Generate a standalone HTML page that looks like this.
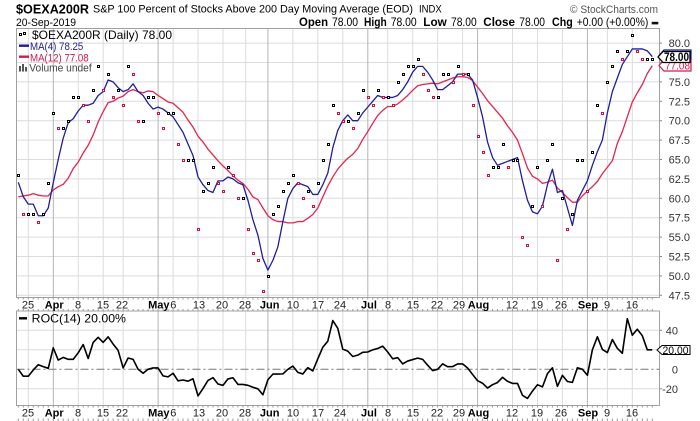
<!DOCTYPE html>
<html><head><meta charset="utf-8">
<style>
html,body{margin:0;padding:0;background:#fff;}
svg{display:block;font-family:"Liberation Sans",Arial,sans-serif;}
</style></head><body>
<svg id="c" width="700" height="421" viewBox="0 0 700 421" xmlns="http://www.w3.org/2000/svg">
<defs>
<clipPath id="cm"><rect x="16.5" y="28.5" width="643" height="269"/></clipPath>
<clipPath id="cr"><rect x="16.5" y="311" width="643" height="94.5"/></clipPath>
</defs>
<rect x="0" y="0" width="700" height="421" fill="#fff"/>
<g id="grid"></g>
<g id="ser"></g>

<!-- header -->
<text x="16" y="13.3" font-weight="bold" font-size="13" textLength="73" lengthAdjust="spacingAndGlyphs">$OEXA200R</text>
<text x="93" y="12.7" font-size="11" textLength="320" lengthAdjust="spacingAndGlyphs">S&amp;P 100 Percent of Stocks Above 200 Day Moving Average (EOD)</text>
<text x="419" y="12.7" font-size="11" textLength="22.7" lengthAdjust="spacingAndGlyphs">INDX</text>
<text x="570" y="13" font-size="11" fill="#555" textLength="88" lengthAdjust="spacingAndGlyphs">&#169; StockCharts.com</text>

<text x="16" y="26" font-size="11" textLength="60" lengthAdjust="spacingAndGlyphs">20-Sep-2019</text>
<g font-size="12">
<text x="299" y="26" font-weight="bold" textLength="29" lengthAdjust="spacingAndGlyphs">Open</text>
<text x="332" y="26" textLength="26" lengthAdjust="spacingAndGlyphs">78.00</text>
<text x="364" y="26" font-weight="bold" textLength="22.7" lengthAdjust="spacingAndGlyphs">High</text>
<text x="390.7" y="26" textLength="26" lengthAdjust="spacingAndGlyphs">78.00</text>
<text x="423.3" y="26" font-weight="bold" textLength="23.4" lengthAdjust="spacingAndGlyphs">Low</text>
<text x="451" y="26" textLength="25.7" lengthAdjust="spacingAndGlyphs">78.00</text>
<text x="483.3" y="26" font-weight="bold" textLength="31.7" lengthAdjust="spacingAndGlyphs">Close</text>
<text x="519.3" y="26" textLength="25.7" lengthAdjust="spacingAndGlyphs">78.00</text>
<text x="552" y="26" font-weight="bold" textLength="20.7" lengthAdjust="spacingAndGlyphs">Chg</text>
<text x="576.7" y="26" textLength="71.6" lengthAdjust="spacingAndGlyphs">+0.00 (+0.00%)</text>
</g>
<rect x="651.7" y="21.8" width="6.6" height="2.6" fill="#111"/>

<!-- legend main -->
<rect x="19.5" y="33.5" width="2" height="2" fill="#fff" stroke="#000" stroke-width="1"/>
<rect x="23.5" y="32.5" width="2" height="2" fill="#fff" stroke="#000" stroke-width="1"/>
<text x="32" y="39" font-size="12" textLength="140" lengthAdjust="spacingAndGlyphs">$OEXA200R (Daily) 78.00</text>
<line x1="19" y1="45.7" x2="29" y2="45.7" stroke="#1d1d8f" stroke-width="2.4"/>
<text x="30" y="50" font-size="11" fill="#1d1d8f" textLength="53.3" lengthAdjust="spacingAndGlyphs">MA(4) 78.25</text>
<line x1="19" y1="56.7" x2="29" y2="56.7" stroke="#d6184a" stroke-width="2.4"/>
<text x="30" y="61.5" font-size="11" fill="#d6184a" textLength="58.7" lengthAdjust="spacingAndGlyphs">MA(12) 77.08</text>
<rect x="19" y="66" width="2" height="5.5" fill="#555"/>
<rect x="22" y="64" width="2" height="7.5" fill="#555"/>
<rect x="25" y="67" width="2" height="4.5" fill="#555"/>
<text x="29.3" y="71.7" font-size="11" fill="#444" textLength="62.4" lengthAdjust="spacingAndGlyphs">Volume undef</text>

<!-- ROC legend -->
<line x1="19" y1="318.3" x2="27" y2="318.3" stroke="#000" stroke-width="2.4"/>
<text x="31.7" y="322.5" font-size="12" textLength="94.3" lengthAdjust="spacingAndGlyphs">ROC(14) 20.00%</text>

<g id="labels"></g>

<!-- tags main -->
<polygon points="659,55.5 664,50 691,50 691,61 664,61" fill="#fff" stroke="#1d1d8f" stroke-width="1.2"/>
<polygon points="659,65.5 664,60 691,60 691,71 664,71" fill="#fff" stroke="#d6184a" stroke-width="1.2"/>
<text x="665" y="69.5" font-size="11" fill="#d6184a" textLength="25" lengthAdjust="spacingAndGlyphs">77.08</text>
<polygon points="658,57 663,51.5 690,51.5 690,62.5 663,62.5" fill="#fff" stroke="#000" stroke-width="1.3"/>
<text x="664" y="61" font-size="12" font-weight="bold" textLength="25" lengthAdjust="spacingAndGlyphs">78.00</text>

<!-- ROC tag -->
<polygon points="657,350 662,345.5 690,345.5 690,354.5 662,354.5" fill="#fff" stroke="#000" stroke-width="1"/>
<text x="662.5" y="353.8" font-size="11" textLength="26" lengthAdjust="spacingAndGlyphs">20.00</text>
</svg>
<script>
(function(){
var NS="http://www.w3.org/2000/svg";
function el(tag,a,p){var e=document.createElementNS(NS,tag);for(var k in a)e.setAttribute(k,a[k]);p.appendChild(e);return e;}
var grid=document.getElementById('grid'),ser=document.getElementById('ser'),lab=document.getElementById('labels');
var C=[58,63,58,
58,58,57,58,62,71,69,69,70,73,
73,72,70,74,77,74,76,73,74,72,
77,76,70,70,73,73,71,69,71,71,
67,65,65,65,56,61,62,64,62,61,
64,63,60,60,56,53,52,48,50,58,
59,61,62,63,62,60,61,59,62,65,
67,72,71,70,70,69,71,74,73,72,
74,73,73,72,75,76,77,77,78,76,
74,73,73,76,76,75,77,76,76,72,
68,66,63,64,64,67,64,65,65,55,
54,59,64,59,65,67,52,60,56,58,
65,65,61,66,72,71,75,77,79,78,
79,81,79,78,78,78];
function c(i){return C[i+3];}
function X(i){return 28.28+4.992*i;}
function Y(v){return 43.1+(80-v)*7.76;}
function YR(r){return 369.3-r*0.975;}
var ma12pre=[60.2,60.3,60.4,60.6,60.4,60.3,60.3,61.07,61.5,61.8];
var rocpre=[0,-7.1,-7.1,-0.7,4.7,2.7,1,22,9.5,12.2,10.2,10.2,16.9,25.4];
var gl=[[28.3,0],[53.3,1],[78.3,0],[103.2,0],[123.1,0],[158.1,1],[173.1,0],[198,0],[223,0],[245.7,0],[267.9,1],[292.9,0],[317.8,0],[342.8,0],[367.8,1],[387.7,0],[412.7,0],[437.6,0],[462.6,0],[477.6,1],[512.5,0],[537.5,0],[562.4,0],[587.4,1],[607.4,0],[632.3,0]];
var i,v;
for(v=47.5;v<=80.01;v+=2.5){var y=Y(v);
 el('line',{x1:16.5,x2:659.5,y1:y,y2:y,stroke:'#dcdcdc','stroke-width':1},grid);
 el('line',{x1:659.5,x2:662,y1:y,y2:y,stroke:'#888','stroke-width':1},grid);
 var t=el('text',{x:690,y:y+4,'font-size':11,'text-anchor':'end',fill:'#333'},lab);t.textContent=v.toFixed(1);}
[40,20,-20].forEach(function(r){var y=YR(r);el('line',{x1:16.5,x2:659.5,y1:y,y2:y,stroke:'#dcdcdc','stroke-width':1},grid);
 el('line',{x1:659.5,x2:662,y1:y,y2:y,stroke:'#888','stroke-width':1},grid);});
[[40,'40'],[0,'0'],[-20,'-20']].forEach(function(p){var t=el('text',{x:678,y:YR(p[0])+4,'font-size':11,'text-anchor':'end',fill:'#333'},lab);t.textContent=p[1];});
gl.forEach(function(g){var col=g[1]?'#b4b4b4':'#dcdcdc';
 el('line',{x1:g[0],x2:g[0],y1:28.5,y2:297.5,stroke:col,'stroke-width':1},grid);
 el('line',{x1:g[0],x2:g[0],y1:311,y2:405.5,stroke:col,'stroke-width':1},grid);});
el('line',{x1:16.5,x2:659.5,y1:YR(0),y2:YR(0),stroke:'#777','stroke-width':1,'stroke-dasharray':'8 3 2 3'},grid);
el('rect',{x:16.5,y:28.5,width:643,height:269,fill:'none',stroke:'#a0a0a0','stroke-width':1},grid);
el('rect',{x:16.5,y:311,width:643,height:94.5,fill:'none',stroke:'#a0a0a0','stroke-width':1},grid);
for(i=-2;i<=125;i++){var x=X(i);
 el('line',{x1:x,x2:x,y1:297.5,y2:299.5,stroke:'#999','stroke-width':1},grid);
 el('line',{x1:x,x2:x,y1:309,y2:311,stroke:'#999','stroke-width':1},grid);
 el('line',{x1:x,x2:x,y1:405.5,y2:407.5,stroke:'#999','stroke-width':1},grid);
 el('line',{x1:x,x2:x,y1:418.5,y2:421,stroke:'#999','stroke-width':1},grid);}
var dl=[['25',28,0],['Apr',54.2,1],['8',78,0],['15',103,0],['22',122,0],['May',158.8,1],['6',173.3,0],['13',199,0],['20',222,0],['28',245,0],['Jun',269.7,1],['10',293,0],['17',318,0],['24',340,0],['Jul',369,1],['8',388,0],['15',413,0],['22',437,0],['29',459,0],['Aug',478.5,1],['12',512,0],['19',537,0],['26',561,0],['Sep',588,1],['9',607,0],['16',632,0]];
[308.5,416.5].forEach(function(by){dl.forEach(function(d){var t=el('text',{x:d[1],y:by,'font-size':11,'text-anchor':'middle',fill:d[2]?'#000':'#222','font-weight':d[2]?'bold':'normal'},lab);t.textContent=d[0];});});
var gm=el('g',{'clip-path':'url(#cm)'},ser),gr=el('g',{'clip-path':'url(#cr)'},ser);
var p4=[],p12=[],pr=[];
for(i=-2;i<=125;i++){
 var m4=(i==-2)?62.06:(i==-1)?60.2:(c(i)+c(i-1)+c(i-2)+c(i-3))/4;
 var m12;if(i<=7)m12=ma12pre[i+2];else{m12=0;for(var k=0;k<12;k++)m12+=c(i-k);m12/=12;}
 var r=(i<=11)?rocpre[i+2]:(c(i)-c(i-14))/c(i-14)*100;
 p4.push(X(i).toFixed(2)+','+Y(m4).toFixed(2));
 p12.push(X(i).toFixed(2)+','+Y(m12).toFixed(2));
 pr.push(X(i).toFixed(2)+','+YR(r).toFixed(2));}
el('polyline',{points:p12.join(' '),fill:'none',stroke:'#e2254f','stroke-width':1.3,'stroke-linejoin':'round'},gm);
el('polyline',{points:p4.join(' '),fill:'none',stroke:'#1f1f9a','stroke-width':1.3,'stroke-linejoin':'round'},gm);
for(i=-2;i<=125;i++){var col=(c(i)<c(i-1))?'#d4103f':'#000';
 var rx=Math.round(X(i)-1)+0.5, ry=Math.round(Y(c(i))-1)+0.5;
 el('rect',{x:rx,y:ry,width:2,height:2,fill:'#fff',stroke:col,'stroke-width':1},gm);}
el('polyline',{points:pr.join(' '),fill:'none',stroke:'#000','stroke-width':1.6,'stroke-linejoin':'round'},gr);
})();
</script>
</body></html>
